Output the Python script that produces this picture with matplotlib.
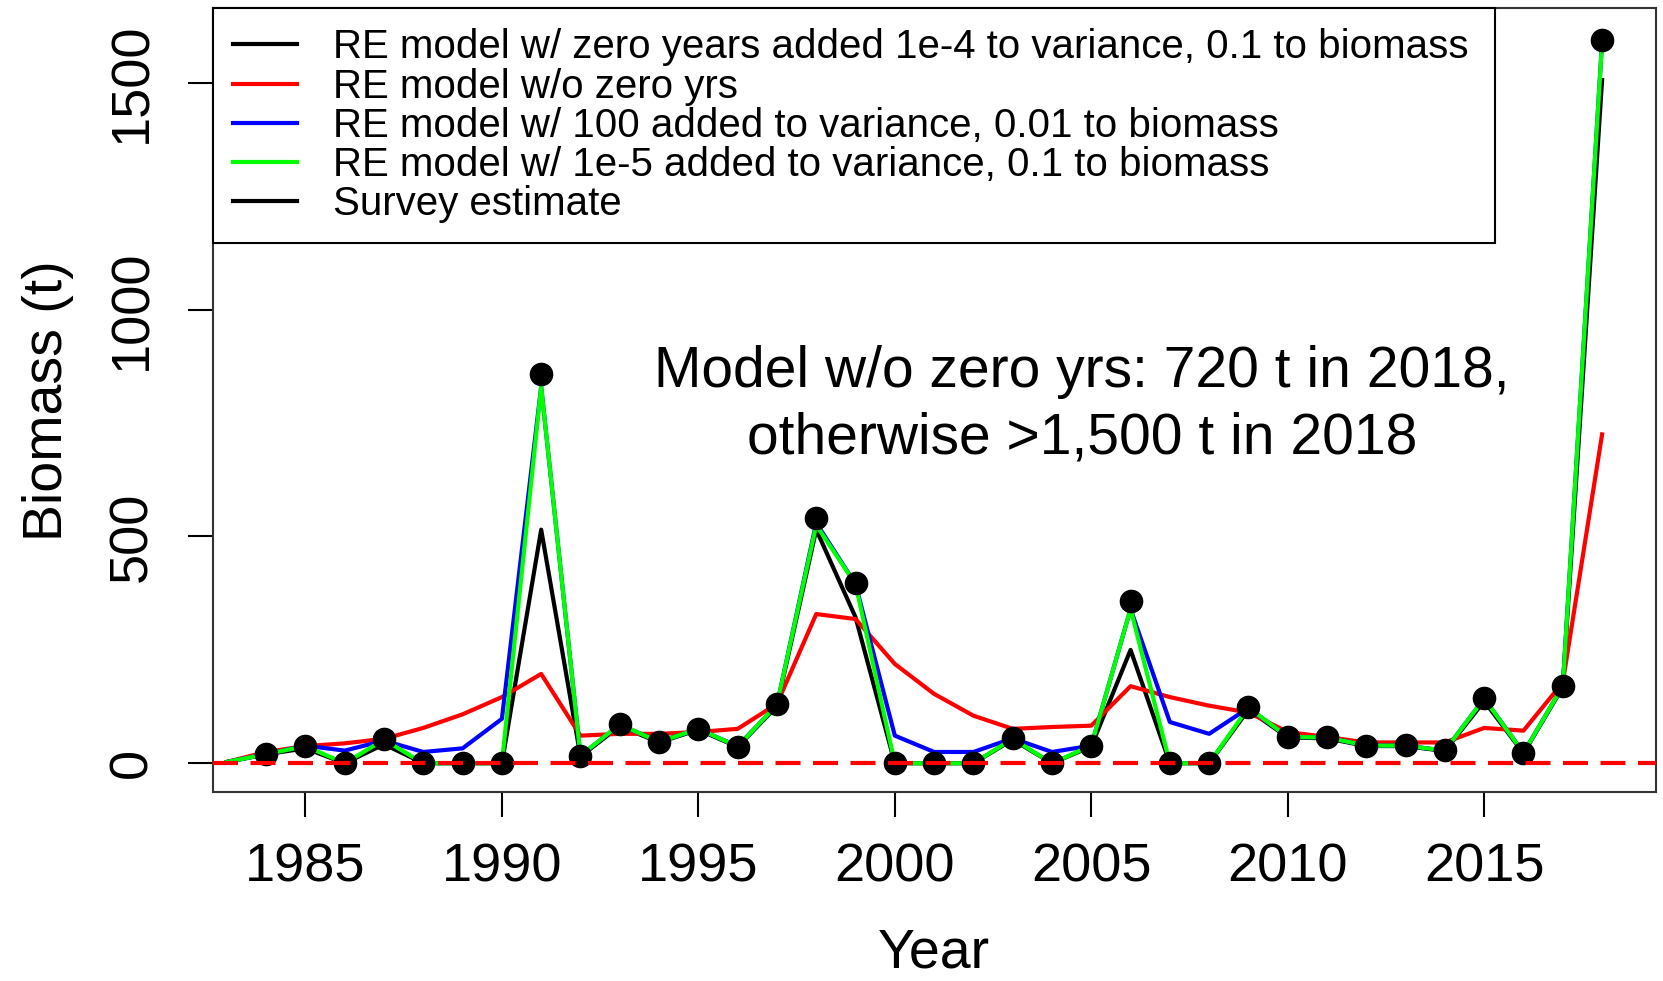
import matplotlib.pyplot as plt
import numpy as np

plt.rcParams['font.family'] = ['Liberation Sans', 'DejaVu Sans']

model_years = np.arange(1983, 2019)
survey_years = np.arange(1984, 2019)

survey = [21, 38, 0, 53, 0, 0, 0, 858, 17, 87, 47, 76, 37, 130, 540, 398,
          0, 0, 0, 55, 0, 39, 358, 0, 0, 124, 58, 57, 39, 40, 29, 145, 23, 171, 1595]

# RE model w/ zero years added 1e-4 to variance, 0.1 to biomass
re_zero = [3, 20, 33, 0.1, 42, 0.1, 0.1, 0.1, 515, 15, 82, 46, 74, 36, 126, 515, 322,
           0.1, 0.1, 0.1, 52, 0.1, 37, 250, 0.1, 0.1, 118, 57, 55, 38, 38, 27, 137, 22, 168, 1506]
# RE model w/o zero yrs
re_nozero = [3, 25, 38, 44, 54, 78, 108, 146, 197, 61, 65, 65, 69, 76, 131, 329, 318,
             219, 153, 105, 76, 80, 83, 170, 146, 127, 112, 69, 58, 46, 46, 46, 78, 72, 178, 725]
# RE model w/ 100 added to variance, 0.01 to biomass
re_100 = [3, 20, 39, 28, 50, 25, 33, 98, 830, 17, 85, 48, 75, 38, 128, 530, 395,
          61, 25, 25, 55, 25, 39, 340, 91, 65, 122, 58, 57, 39, 39, 28, 143, 23, 170, 1590]
# RE model w/ 1e-5 added to variance, 0.1 to biomass
re_1e5 = [3, 20, 38, 0.1, 52, 0.1, 0.1, 0.1, 830, 17, 86, 47, 76, 37, 129, 525, 395,
          0.1, 0.1, 0.1, 54, 0.1, 39, 340, 0.1, 0.1, 123, 58, 57, 39, 39, 28, 143, 23, 170, 1590]

labels = ['RE model w/ zero years added 1e-4 to variance, 0.1 to biomass',
          'RE model w/o zero yrs',
          'RE model w/ 100 added to variance, 0.01 to biomass',
          'RE model w/ 1e-5 added to variance, 0.1 to biomass',
          'Survey estimate']

fig = plt.figure(figsize=(16.63, 9.81), dpi=100)
ax = fig.add_axes([0.1279, 0.1923, 0.8676, 0.7992])

lw = 3
ax.plot(model_years, re_zero, color='black', lw=lw, label=labels[0])
ax.plot(model_years, re_nozero, color='#FF0000', lw=lw, label=labels[1])
ax.plot(model_years, re_100, color='#0000FF', lw=lw, label=labels[2])
ax.plot(model_years, re_1e5, color='#00FF00', lw=lw, label=labels[3])
ax.plot(survey_years, survey, 'o', color='black', ms=16, zorder=5)
ax.plot([], [], color='black', lw=lw, label=labels[4])
ax.axhline(0, color='#FF0000', lw=lw, ls=(0, (6, 3)), zorder=6)

ax.set_xlim(1982.64, 2019.36)
ax.set_ylim(-64, 1664)
ax.set_xticks(np.arange(1985, 2016, 5))
ax.set_yticks([0, 500, 1000, 1500])
ax.tick_params(axis='both', labelsize=39, length=18, width=1.5, colors='black')
ax.tick_params(axis='x', pad=18)
ax.tick_params(axis='y', pad=22)
for lab in ax.get_yticklabels():
    lab.set_rotation(90)
    lab.set_va('center')
for s in ax.spines.values():
    s.set_color('#333333')
    s.set_linewidth(1.5)

ax.set_xlabel('Year', fontsize=40, labelpad=25)
ax.set_ylabel('Biomass (t)', fontsize=40, labelpad=24)

ax.text(2004.76, 789, 'Model w/o zero yrs: 720 t in 2018,\notherwise >1,500 t in 2018',
        fontsize=41, ha='center', va='center', linespacing=1.3)

leg = ax.legend(loc='upper left', bbox_to_anchor=(0, 0.7074, 0.8888, 0.2926),
                mode='expand', borderaxespad=0, fontsize=29, frameon=True,
                fancybox=False, edgecolor='black', framealpha=1,
                handlelength=1.6, handletextpad=0.88, borderpad=0.5,
                labelspacing=0.03)
leg.get_frame().set_linewidth(1.5)

fig.savefig('out.png', dpi=100)
